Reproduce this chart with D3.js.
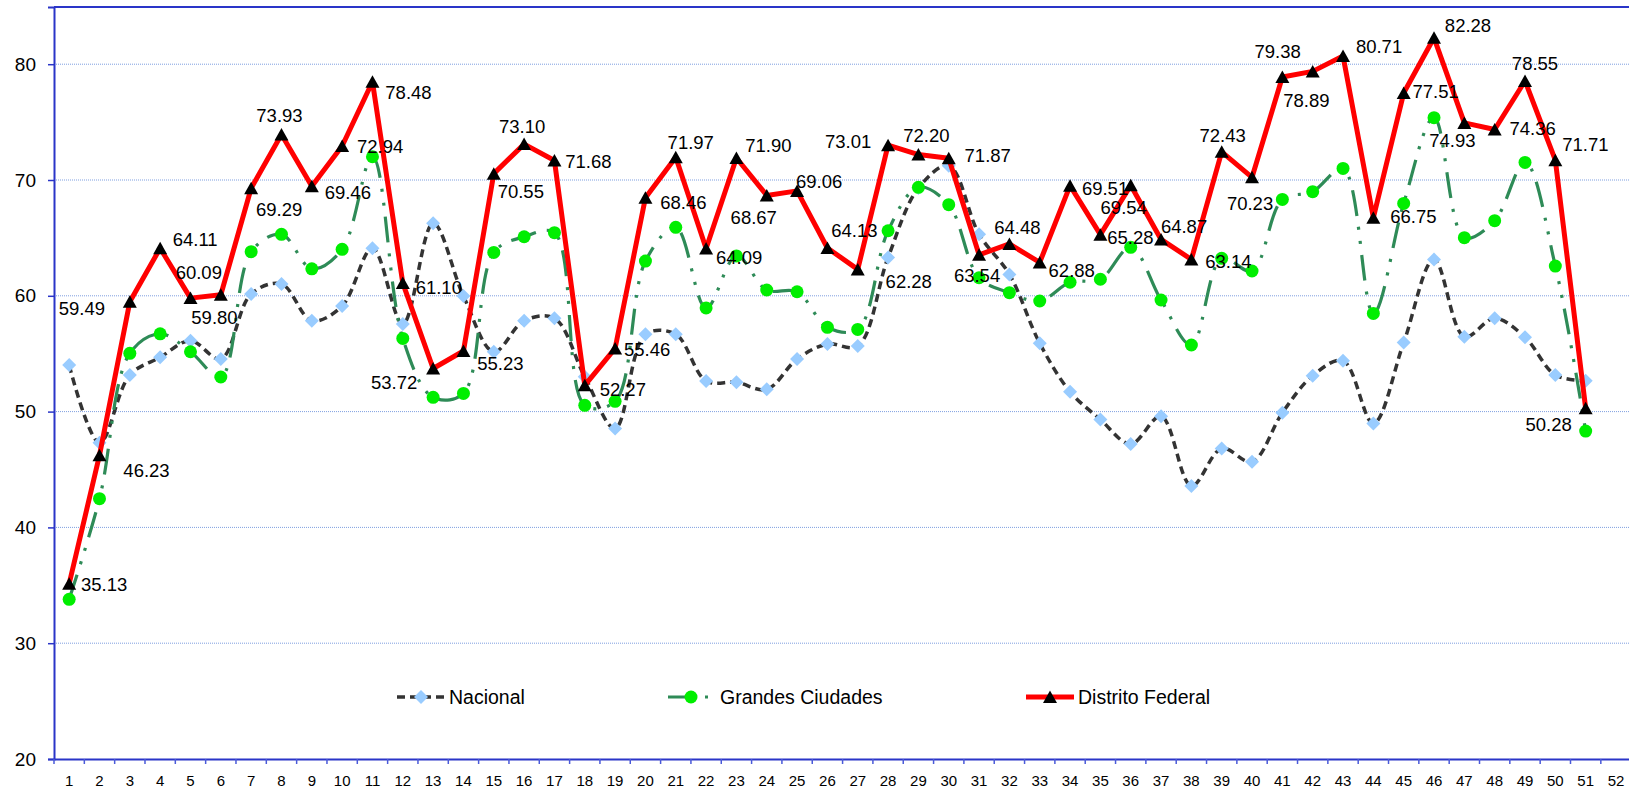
<!DOCTYPE html>
<html>
<head>
<meta charset="utf-8">
<script src="https://cdn.jsdelivr.net/npm/d3@7"></script>
<style>
  html, body { margin: 0; padding: 0; background: #fff; }
  svg { display: block; }
  text { font-family: "Liberation Sans", Arial, sans-serif; fill: #000; }
</style>
</head>
<body>
<svg id="chart" width="1629" height="789"></svg>
<script>
// ---- data ----
const weeks = ["1","2","3","4","5","6","7","8","9","10","11","12","13","14","15","16","17","18","19","20",
  "21","22","23","24","25","26","27","28","29","30","31","32","33","34","35","36","37","38","39","40",
  "41","42","43","44","45","46","47","48","49","50","51","52"];
const yTicks = [20, 30, 40, 50, 60, 70, 80];
const seriesNames = ["Nacional", "Grandes Ciudades", "Distrito Federal"];

const nacional = [54.02,47.31,53.16,54.69,56.12,54.54,60.16,61.02,57.85,59.12,
  64.10,57.56,66.26,59.98,55.17,57.85,58.06,53.01,48.55,56.67,
  56.67,52.64,52.53,51.92,54.54,55.84,55.66,63.31,69.30,71.23,
  65.31,61.85,55.90,51.72,49.32,47.20,49.60,43.58,46.82,45.67,
  49.90,53.10,54.40,48.98,55.96,63.13,56.47,58.06,56.42,53.16,52.67];

const grandes = [33.79,42.48,55.03,56.72,55.17,52.99,63.81,65.31,62.33,64.01,
  72.01,56.32,51.23,51.57,63.75,65.10,65.45,50.54,50.89,63.00,
  65.91,58.95,63.44,60.50,60.35,57.28,57.10,65.62,69.37,67.87,
  61.56,60.27,59.55,61.17,61.43,64.19,59.64,55.75,63.24,62.14,
  68.32,68.99,71.00,58.48,67.98,75.38,65.02,66.49,71.52,62.57,48.32];

const distrito = [35.13,46.23,59.49,64.11,59.80,60.09,69.29,73.93,69.46,72.94,
  78.48,61.10,53.72,55.23,70.55,73.10,71.68,52.27,55.46,68.46,
  71.97,64.09,71.90,68.67,69.06,64.13,62.28,73.01,72.20,71.87,
  63.54,64.48,62.88,69.51,65.28,69.54,64.87,63.14,72.43,70.23,
  78.89,79.38,80.71,66.75,77.51,82.28,74.93,74.36,78.55,71.71,50.28];

// label offsets (layout only) for Distrito Federal data labels, px relative to point
const labelOffsets = [[35,1],[47,15],[-48,7],[35,-9],[24,19],[-22,-22],[28,21],[-2,-19],[36,6],[38,1],
  [36,11],[36,4],[-39,14],[37,12],[27,18],[-2,-18],[34,1],[38,4],[32,1],[38,5],
  [15,-15],[33,9],[32,-12],[-13,22],[22,-9],[27,-17],[51,12],[-40,-4],[8,-19],[39,-3],
  [-2,21],[8,-16],[32,8],[35,3],[30,3],[-7,22],[23,-13],[37,2],[1,-16],[-2,26],
  [24,23],[-35,-20],[36,-9],[40,-1],[32,-2],[34,-12],[-12,18],[38,-1],[10,-17],[30,-16],[-37,16]];

(function () {
// ---- layout ----
const svg = d3.select("#chart");
const plotLeft = 54, plotTop = 7, plotBottom = 759, band = 30.33;
const x = d3.scaleBand().domain(weeks).range([plotLeft, plotLeft + band * weeks.length]).paddingInner(0).paddingOuter(0);
const y = d3.scaleLinear().domain([20, 84.94]).range([plotBottom, plotTop]);
const cx = (i) => x(weeks[i]) + x.bandwidth() / 2;

const axisBlue = "#2a35c8";

// gridlines
svg.append("g").selectAll("line").data(yTicks.filter(t => t > 20)).join("line")
  .attr("x1", plotLeft).attr("x2", 1629)
  .attr("y1", d => y(d)).attr("y2", d => y(d))
  .attr("stroke", "#7f9fe0").attr("stroke-width", 1).attr("stroke-dasharray", "1,1");

// top border
svg.append("line").attr("x1", plotLeft).attr("x2", 1629).attr("y1", plotTop).attr("y2", plotTop)
  .attr("stroke", axisBlue).attr("stroke-width", 2);

// y axis
const yAxis = d3.axisLeft(y).tickValues(yTicks).tickSize(6).tickPadding(12).tickFormat(d3.format("d"));
const gy = svg.append("g").attr("transform", `translate(${plotLeft},0)`).call(yAxis);
gy.select(".domain").attr("stroke", axisBlue).attr("stroke-width", 2);
gy.selectAll(".tick line").attr("stroke", axisBlue).attr("stroke-width", 1.5);
gy.selectAll(".tick text").attr("font-size", 19).attr("font-family", "Liberation Sans, Arial, sans-serif").attr("fill", "#000");

// x axis
const xAxis = d3.axisBottom(x).tickSize(0).tickPadding(0);
const gx = svg.append("g").attr("transform", `translate(0,${plotBottom})`).call(xAxis);
gx.select(".domain").attr("stroke", axisBlue).attr("stroke-width", 2);
gx.selectAll(".tick text").attr("font-size", 15).attr("font-family", "Liberation Sans, Arial, sans-serif")
  .attr("fill", "#000").attr("y", 27).attr("dy", 0);
// tick marks at band boundaries
svg.append("g").selectAll("line").data(weeks).join("line")
  .attr("x1", d => x(d)).attr("x2", d => x(d))
  .attr("y1", plotBottom).attr("y2", plotBottom + 5)
  .attr("stroke", "#4a5ad8").attr("stroke-width", 1.5);

// ---- series ----
const diamond = "M0,-7L7,0L0,7L-7,0Z";
const triangle = "M0,-6.5L7,6L-7,6Z";

function drawSeries(values, opts) {
  const g = svg.append("g");
  const line = d3.line().x((d, i) => cx(i)).y(d => y(d)).curve(opts.curve);
  g.append("path").datum(values).attr("d", line)
    .attr("fill", "none").attr("stroke", opts.stroke).attr("stroke-width", opts.width)
    .attr("stroke-dasharray", opts.dash || null).attr("stroke-linejoin", "round");
  const m = g.append("g").selectAll("g").data(values).join("g")
    .attr("transform", (d, i) => `translate(${cx(i)},${y(d)})`);
  opts.marker(m);
  return g;
}

drawSeries(nacional, {
  stroke: "#333333", width: 3.5, dash: "8,5", curve: d3.curveCatmullRom.alpha(0.5),
  marker: sel => sel.append("path").attr("d", diamond).attr("fill", "#99ccff")
});
drawSeries(grandes, {
  stroke: "#2e8b57", width: 3.2, dash: "26,11,3,11,3,11", curve: d3.curveCatmullRom.alpha(0.5),
  marker: sel => sel.append("circle").attr("r", 6.5).attr("fill", "#00ee00")
});
drawSeries(distrito, {
  stroke: "#ff0000", width: 5, dash: null, curve: d3.curveLinear,
  marker: sel => sel.append("path").attr("d", triangle).attr("fill", "#000")
});

// data labels for Distrito Federal
svg.append("g").selectAll("text").data(distrito).join("text")
  .attr("x", (d, i) => cx(i) + labelOffsets[i][0])
  .attr("y", (d, i) => y(d) + labelOffsets[i][1])
  .attr("text-anchor", "middle").attr("dy", "0.35em")
  .attr("font-size", 18.5)
  .text(d => d.toFixed(2));

// ---- legend ----
const legendY = 697;
const legendItems = [
  { name: seriesNames[0], x0: 397, x1: 445, stroke: "#333333", width: 3.5, dash: "8,5",
    marker: g => g.append("path").attr("d", diamond).attr("fill", "#99ccff") },
  { name: seriesNames[1], x0: 668, x1: 712, stroke: "#2e8b57", width: 3.2, dash: "26,11,3,11,3,11",
    marker: g => g.append("circle").attr("r", 6.5).attr("fill", "#00ee00"), mx: 691 },
  { name: seriesNames[2], x0: 1026, x1: 1074, stroke: "#ff0000", width: 5, dash: null,
    marker: g => g.append("path").attr("d", triangle).attr("fill", "#000") }
];
const lg = svg.append("g").selectAll("g").data(legendItems).join("g");
lg.append("line")
  .attr("x1", d => d.x0).attr("x2", d => d.x1).attr("y1", legendY).attr("y2", legendY)
  .attr("stroke", d => d.stroke).attr("stroke-width", d => d.width)
  .attr("stroke-dasharray", d => d.dash);
lg.each(function(d) {
  const mg = d3.select(this).append("g")
    .attr("transform", `translate(${d.mx || (d.x0 + d.x1) / 2},${legendY})`);
  d.marker(mg);
});
lg.append("text")
  .attr("x", d => d.x1 + (d.mx ? 8 : 4)).attr("y", legendY).attr("dy", "0.35em")
  .attr("font-size", 19.5)
  .text(d => d.name);
})();
</script>
</body>
</html>
